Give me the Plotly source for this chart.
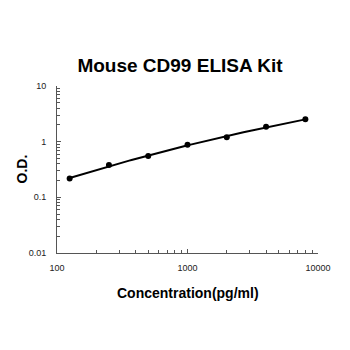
import numpy as np
import plotly.graph_objects as go

conc = [125, 250, 500, 1000, 2000, 4000, 8000]
od = [0.217, 0.38, 0.553, 0.88, 1.2, 1.86, 2.52]

x_tickvals = [100, 1000, 10000]
x_ticktext = ["100", "1000", "10000"]
y_tickvals = [0.01, 0.1, 1, 10]
y_ticktext = ["0.01", "0.1", "1", "10"]
x_minor = [m * d for d in [100, 1000] for m in range(2, 10)]
y_minor = [m * d for d in [0.01, 0.1, 1] for m in range(2, 10)]

# fitted standard curve (quadratic in log-log space) derived from the data
lx = np.log10(conc)
ly = np.log10(od)
coef = np.polyfit(lx, ly, 2)
fx = np.linspace(lx.min(), lx.max(), 100)
fit_x = 10 ** fx
fit_y = 10 ** np.polyval(coef, fx)

fig = go.Figure()
fig.add_trace(go.Scatter(x=fit_x, y=fit_y, mode="lines", line=dict(color="black", width=2), showlegend=False))
fig.add_trace(go.Scatter(x=conc, y=od, mode="markers", marker=dict(color="black", size=6), showlegend=False))

font = "Arial, Liberation Sans, sans-serif"
fig.update_layout(
    width=350, height=350,
    margin=dict(l=57, r=32, t=86, b=97),
    paper_bgcolor="white", plot_bgcolor="white",
    font=dict(family=font, color="black"),
    title=dict(text="<b>Mouse CD99 ELISA Kit</b>", x=180/350, xanchor="center", y=1-65/350, yanchor="middle",
               font=dict(size=19, family=font, color="black")),
    annotations=[
        dict(text="<b>Concentration(pg/ml)</b>", xref="paper", yref="paper", x=0.5, y=-40/167,
             xanchor="center", yanchor="middle", showarrow=False, font=dict(size=14, color="black")),
        dict(text="<b>O.D.</b>", xref="paper", yref="paper", x=-36/261, y=0.5, textangle=-90,
             xanchor="center", yanchor="middle", showarrow=False, font=dict(size=14, color="black")),
    ],
)
fig.update_xaxes(
    type="log", range=[2, 4], tickvals=x_tickvals, ticktext=x_ticktext,
    showline=True, linecolor="#555", linewidth=1, showgrid=False, zeroline=False,
    ticks="inside", ticklen=4, tickcolor="#555", tickfont=dict(size=9, color="#222"),
    ticklabelstandoff=6,
    minor=dict(tickvals=x_minor, ticks="inside", ticklen=3, tickcolor="#555", showgrid=False),
)
fig.update_yaxes(
    type="log", range=[-2, 1], tickvals=y_tickvals, ticktext=y_ticktext,
    showline=True, linecolor="#555", linewidth=1, showgrid=False, zeroline=False,
    ticks="inside", ticklen=4, tickcolor="#555", tickfont=dict(size=9, color="#222"),
    ticklabelstandoff=8,
    minor=dict(tickvals=y_minor, ticks="inside", ticklen=3, tickcolor="#555", showgrid=False),
)
fig.write_html("out.html")
